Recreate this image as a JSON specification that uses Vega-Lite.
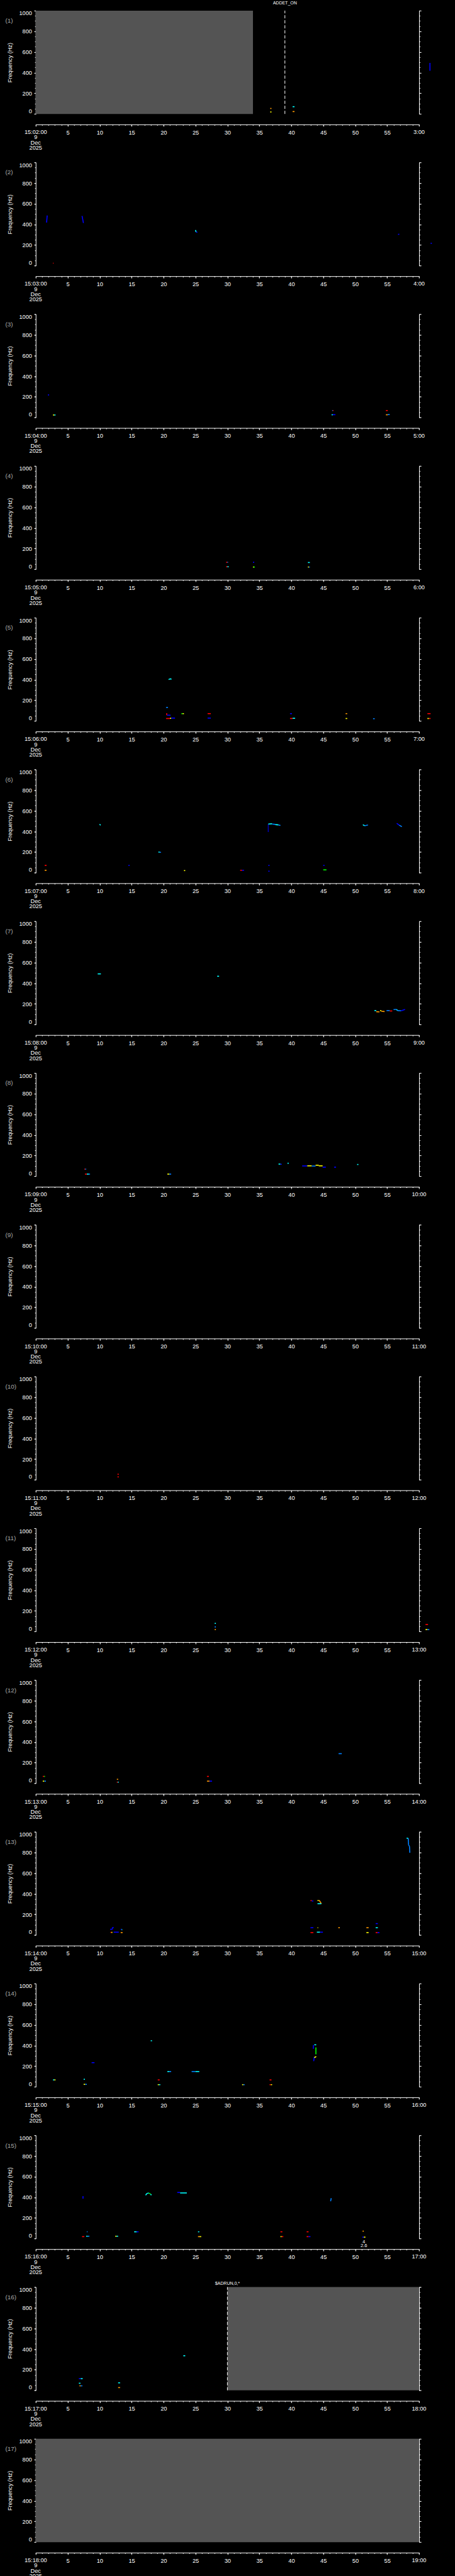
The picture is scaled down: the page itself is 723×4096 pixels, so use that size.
{
"$schema": "https://vega.github.io/schema/vega-lite/v6.json",
"background": "#000000",
"autosize": "none",
"padding": {"left": 56.75, "top": 16.9, "right": 666.25, "bottom": 4079.1},
"config": {
 "view": {"stroke": null},
 "axis": {"domainColor": "#ffffff", "tickColor": "#ffffff", "labelColor": "#ffffff", "titleColor": "#ffffff", "grid": false, "labelFont": "Liberation Sans Narrow, Liberation Sans, sans-serif", "titleFont": "Liberation Sans, sans-serif", "labelFontSize": 9.2, "domainWidth": 1, "tickWidth": 1, "labelOverlap": false, "titleFontWeight": "normal"},
 "text": {"font": "Liberation Sans Narrow, Liberation Sans, sans-serif", "color": "#ffffff"}
},
"data": {"values": [
{"p":1,"k":"g","t":0,"t2":34,"f":0,"f2":1000},
{"p":16,"k":"g","t":30,"t2":60,"f":0,"f2":1000},
{"p":17,"k":"g","t":0,"t2":60,"f":0,"f2":1000},
{"p":1,"k":"d","t":39,"f":0,"f2":1000},
{"p":16,"k":"d","t":30,"f":0,"f2":1000},
{"p":1,"k":"a","t":39,"f":1075,"s":"ADDET_ON"},
{"p":16,"k":"a","t":30,"f":1034,"s":"$ADRUN,0,*"},
{"p":15,"k":"z","t":51.35,"f":-31,"s":"4"},
{"p":15,"k":"z","t":51.35,"f":-70,"s":"2.6"},
{"p":1,"k":"n","t":-4.76,"f":901,"s":"(1)"},
{"p":2,"k":"n","t":-4.76,"f":901,"s":"(2)"},
{"p":3,"k":"n","t":-4.76,"f":901,"s":"(3)"},
{"p":4,"k":"n","t":-4.76,"f":901,"s":"(4)"},
{"p":5,"k":"n","t":-4.76,"f":901,"s":"(5)"},
{"p":6,"k":"n","t":-4.76,"f":901,"s":"(6)"},
{"p":7,"k":"n","t":-4.76,"f":901,"s":"(7)"},
{"p":8,"k":"n","t":-4.76,"f":901,"s":"(8)"},
{"p":9,"k":"n","t":-4.76,"f":901,"s":"(9)"},
{"p":10,"k":"n","t":-4.76,"f":901,"s":"(10)"},
{"p":11,"k":"n","t":-4.76,"f":901,"s":"(11)"},
{"p":12,"k":"n","t":-4.76,"f":901,"s":"(12)"},
{"p":13,"k":"n","t":-4.76,"f":901,"s":"(13)"},
{"p":14,"k":"n","t":-4.76,"f":901,"s":"(14)"},
{"p":15,"k":"n","t":-4.76,"f":901,"s":"(15)"},
{"p":16,"k":"n","t":-4.76,"f":901,"s":"(16)"},
{"p":17,"k":"n","t":-4.76,"f":901,"s":"(17)"},
{"p":1,"k":"s","t":0,"f":-152,"s":"15:02:00\n9\nDec\n2025"},
{"p":2,"k":"s","t":0,"f":-152,"s":"15:03:00\n9\nDec\n2025"},
{"p":3,"k":"s","t":0,"f":-152,"s":"15:04:00\n9\nDec\n2025"},
{"p":4,"k":"s","t":0,"f":-152,"s":"15:05:00\n9\nDec\n2025"},
{"p":5,"k":"s","t":0,"f":-152,"s":"15:06:00\n9\nDec\n2025"},
{"p":6,"k":"s","t":0,"f":-152,"s":"15:07:00\n9\nDec\n2025"},
{"p":7,"k":"s","t":0,"f":-152,"s":"15:08:00\n9\nDec\n2025"},
{"p":8,"k":"s","t":0,"f":-152,"s":"15:09:00\n9\nDec\n2025"},
{"p":9,"k":"s","t":0,"f":-152,"s":"15:10:00\n9\nDec\n2025"},
{"p":10,"k":"s","t":0,"f":-152,"s":"15:11:00\n9\nDec\n2025"},
{"p":11,"k":"s","t":0,"f":-152,"s":"15:12:00\n9\nDec\n2025"},
{"p":12,"k":"s","t":0,"f":-152,"s":"15:13:00\n9\nDec\n2025"},
{"p":13,"k":"s","t":0,"f":-152,"s":"15:14:00\n9\nDec\n2025"},
{"p":14,"k":"s","t":0,"f":-152,"s":"15:15:00\n9\nDec\n2025"},
{"p":15,"k":"s","t":0,"f":-152,"s":"15:16:00\n9\nDec\n2025"},
{"p":16,"k":"s","t":0,"f":-152,"s":"15:17:00\n9\nDec\n2025"},
{"p":17,"k":"s","t":0,"f":-152,"s":"15:18:00\n9\nDec\n2025"},
{"p":1,"k":"s","t":60,"f":-152,"s":"3:00"},
{"p":2,"k":"s","t":60,"f":-152,"s":"4:00"},
{"p":3,"k":"s","t":60,"f":-152,"s":"5:00"},
{"p":4,"k":"s","t":60,"f":-152,"s":"6:00"},
{"p":5,"k":"s","t":60,"f":-152,"s":"7:00"},
{"p":6,"k":"s","t":60,"f":-152,"s":"8:00"},
{"p":7,"k":"s","t":60,"f":-152,"s":"9:00"},
{"p":8,"k":"s","t":60,"f":-152,"s":"10:00"},
{"p":9,"k":"s","t":60,"f":-152,"s":"11:00"},
{"p":10,"k":"s","t":60,"f":-152,"s":"12:00"},
{"p":11,"k":"s","t":60,"f":-152,"s":"13:00"},
{"p":12,"k":"s","t":60,"f":-152,"s":"14:00"},
{"p":13,"k":"s","t":60,"f":-152,"s":"15:00"},
{"p":14,"k":"s","t":60,"f":-152,"s":"16:00"},
{"p":15,"k":"s","t":60,"f":-152,"s":"17:00"},
{"p":16,"k":"s","t":60,"f":-152,"s":"18:00"},
{"p":17,"k":"s","t":60,"f":-152,"s":"19:00"},
{"p":1,"k":"b","t":36.7,"t2":36.9,"f":53,"f2":53,"c":"o"},
{"p":1,"k":"b","t":36.7,"t2":36.9,"f":19,"f2":19,"c":"y"},
{"p":1,"k":"b","t":40.2,"t2":40.5,"f":70,"f2":70,"c":"c"},
{"p":1,"k":"b","t":40.2,"t2":40.5,"f":23,"f2":23,"c":"o"},
{"p":1,"k":"b","t":61.7,"t2":61.7,"f":418,"f2":494,"c":"n"},
{"p":2,"k":"b","t":1.7,"t2":1.8,"f":418,"f2":486,"c":"n"},
{"p":2,"k":"b","t":7.25,"t2":7.47,"f":482,"f2":413,"c":"n"},
{"p":2,"k":"b","t":2.7,"t2":2.8,"f":24,"f2":24,"c":"r"},
{"p":2,"k":"b","t":25.0,"t2":25.1,"f":345,"f2":326,"c":"c"},
{"p":2,"k":"b","t":25.1,"t2":25.3,"f":324,"f2":324,"c":"n"},
{"p":2,"k":"b","t":56.7,"t2":56.9,"f":303,"f2":305,"c":"n"},
{"p":2,"k":"b","t":61.8,"t2":62.0,"f":217,"f2":217,"c":"n"},
{"p":3,"k":"b","t":1.9,"t2":2.1,"f":218,"f2":218,"c":"n"},
{"p":3,"k":"b","t":2.7,"t2":2.9,"f":24,"f2":24,"c":"y"},
{"p":3,"k":"b","t":2.9,"t2":3.1,"f":24,"f2":24,"c":"c"},
{"p":3,"k":"b","t":46.4,"t2":46.5,"f":67,"f2":67,"c":"b"},
{"p":3,"k":"b","t":46.5,"t2":46.6,"f":67,"f2":67,"c":"r"},
{"p":3,"k":"b","t":46.3,"t2":46.5,"f":26,"f2":26,"c":"c"},
{"p":3,"k":"b","t":46.5,"t2":46.9,"f":27,"f2":27,"c":"n"},
{"p":3,"k":"b","t":54.8,"t2":55.1,"f":67,"f2":67,"c":"r"},
{"p":3,"k":"b","t":54.8,"t2":55.1,"f":26,"f2":26,"c":"o"},
{"p":3,"k":"b","t":55.1,"t2":55.4,"f":28,"f2":28,"c":"b"},
{"p":4,"k":"b","t":29.8,"t2":30.0,"f":67,"f2":67,"c":"r"},
{"p":4,"k":"b","t":30.0,"t2":30.1,"f":67,"f2":67,"c":"b"},
{"p":4,"k":"b","t":29.8,"t2":30.0,"f":24,"f2":24,"c":"r"},
{"p":4,"k":"b","t":30.0,"t2":30.2,"f":24,"f2":24,"c":"c"},
{"p":4,"k":"b","t":34.0,"t2":34.2,"f":67,"f2":67,"c":"n"},
{"p":4,"k":"b","t":34.0,"t2":34.1,"f":21,"f2":21,"c":"y"},
{"p":4,"k":"b","t":34.1,"t2":34.3,"f":21,"f2":21,"c":"g"},
{"p":4,"k":"b","t":42.6,"t2":42.9,"f":65,"f2":65,"c":"c"},
{"p":4,"k":"b","t":42.6,"t2":42.75,"f":21,"f2":21,"c":"y"},
{"p":4,"k":"b","t":42.75,"t2":42.9,"f":21,"f2":21,"c":"b"},
{"p":5,"k":"b","t":20.4,"t2":20.7,"f":131,"f2":131,"c":"b"},
{"p":5,"k":"b","t":20.5,"t2":20.5,"f":75,"f2":56,"c":"r"},
{"p":5,"k":"b","t":20.55,"t2":21.1,"f":56,"f2":56,"c":"n"},
{"p":5,"k":"b","t":20.4,"t2":21.0,"f":24,"f2":24,"c":"r"},
{"p":5,"k":"b","t":21.0,"t2":21.2,"f":26,"f2":26,"c":"y"},
{"p":5,"k":"b","t":21.2,"t2":21.8,"f":28,"f2":28,"c":"n"},
{"p":5,"k":"b","t":20.8,"t2":21.0,"f":400,"f2":408,"c":"c"},
{"p":5,"k":"b","t":21.0,"t2":21.25,"f":408,"f2":405,"c":"c"},
{"p":5,"k":"b","t":22.8,"t2":23.0,"f":71,"f2":71,"c":"g"},
{"p":5,"k":"b","t":23.0,"t2":23.2,"f":71,"f2":71,"c":"y"},
{"p":5,"k":"b","t":26.9,"t2":27.4,"f":71,"f2":71,"c":"r"},
{"p":5,"k":"b","t":26.9,"t2":27.4,"f":28,"f2":28,"c":"n"},
{"p":5,"k":"b","t":39.8,"t2":40.1,"f":71,"f2":71,"c":"n"},
{"p":5,"k":"b","t":39.8,"t2":40.2,"f":24,"f2":24,"c":"r"},
{"p":5,"k":"b","t":40.2,"t2":40.6,"f":26,"f2":26,"c":"c"},
{"p":5,"k":"b","t":48.5,"t2":48.75,"f":71,"f2":71,"c":"o"},
{"p":5,"k":"b","t":48.5,"t2":48.75,"f":24,"f2":24,"c":"y"},
{"p":5,"k":"b","t":52.8,"t2":53.05,"f":22,"f2":22,"c":"b"},
{"p":5,"k":"b","t":61.3,"t2":61.8,"f":71,"f2":71,"c":"r"},
{"p":5,"k":"b","t":61.3,"t2":61.55,"f":24,"f2":24,"c":"y"},
{"p":5,"k":"b","t":61.55,"t2":61.8,"f":24,"f2":24,"c":"r"},
{"p":6,"k":"b","t":1.4,"t2":1.7,"f":71,"f2":71,"c":"r"},
{"p":6,"k":"b","t":1.4,"t2":1.7,"f":24,"f2":24,"c":"o"},
{"p":6,"k":"b","t":10.0,"t2":10.15,"f":470,"f2":459,"c":"c"},
{"p":6,"k":"b","t":14.5,"t2":14.7,"f":71,"f2":71,"c":"n"},
{"p":6,"k":"b","t":19.2,"t2":19.4,"f":200,"f2":200,"c":"c"},
{"p":6,"k":"b","t":19.4,"t2":19.6,"f":198,"f2":198,"c":"b"},
{"p":6,"k":"b","t":23.2,"t2":23.4,"f":21,"f2":21,"c":"y"},
{"p":6,"k":"b","t":32.0,"t2":32.3,"f":24,"f2":24,"c":"r"},
{"p":6,"k":"b","t":32.3,"t2":32.6,"f":24,"f2":24,"c":"n"},
{"p":6,"k":"b","t":36.4,"t2":36.4,"f":394,"f2":472,"c":"d"},
{"p":6,"k":"b","t":36.4,"t2":37.0,"f":472,"f2":474,"c":"c"},
{"p":6,"k":"b","t":37.0,"t2":37.5,"f":472,"f2":468,"c":"b"},
{"p":6,"k":"b","t":37.5,"t2":38.0,"f":466,"f2":463,"c":"c"},
{"p":6,"k":"b","t":38.0,"t2":38.3,"f":462,"f2":458,"c":"b"},
{"p":6,"k":"b","t":36.4,"t2":36.6,"f":71,"f2":71,"c":"n"},
{"p":6,"k":"b","t":36.4,"t2":36.6,"f":15,"f2":15,"c":"n"},
{"p":6,"k":"b","t":45.0,"t2":45.2,"f":71,"f2":71,"c":"n"},
{"p":6,"k":"b","t":45.0,"t2":45.5,"f":28,"f2":28,"c":"g"},
{"p":6,"k":"b","t":51.2,"t2":51.5,"f":465,"f2":455,"c":"c"},
{"p":6,"k":"b","t":51.5,"t2":52.0,"f":455,"f2":462,"c":"b"},
{"p":6,"k":"b","t":56.5,"t2":56.9,"f":478,"f2":460,"c":"n"},
{"p":6,"k":"b","t":56.9,"t2":57.3,"f":460,"f2":446,"c":"b"},
{"p":7,"k":"b","t":9.7,"t2":10.2,"f":490,"f2":490,"c":"c"},
{"p":7,"k":"b","t":28.4,"t2":28.7,"f":467,"f2":467,"c":"c"},
{"p":7,"k":"b","t":53.0,"t2":53.3,"f":135,"f2":135,"c":"c"},
{"p":7,"k":"b","t":53.3,"t2":53.8,"f":124,"f2":122,"c":"o"},
{"p":7,"k":"b","t":53.9,"t2":54.1,"f":135,"f2":133,"c":"y"},
{"p":7,"k":"b","t":54.1,"t2":54.6,"f":128,"f2":126,"c":"o"},
{"p":7,"k":"b","t":54.9,"t2":55.4,"f":135,"f2":135,"c":"b"},
{"p":7,"k":"b","t":55.4,"t2":55.8,"f":131,"f2":131,"c":"r"},
{"p":7,"k":"b","t":56.0,"t2":56.5,"f":145,"f2":146,"c":"b"},
{"p":7,"k":"b","t":56.5,"t2":56.6,"f":146,"f2":135,"c":"c"},
{"p":7,"k":"b","t":56.6,"t2":57.2,"f":135,"f2":133,"c":"b"},
{"p":7,"k":"b","t":57.2,"t2":57.8,"f":133,"f2":146,"c":"n"},
{"p":8,"k":"b","t":7.6,"t2":7.75,"f":69,"f2":69,"c":"r"},
{"p":8,"k":"b","t":7.75,"t2":7.9,"f":69,"f2":69,"c":"b"},
{"p":8,"k":"b","t":7.7,"t2":8.0,"f":21,"f2":21,"c":"r"},
{"p":8,"k":"b","t":8.0,"t2":8.3,"f":21,"f2":21,"c":"c"},
{"p":8,"k":"b","t":8.3,"t2":8.5,"f":21,"f2":21,"c":"b"},
{"p":8,"k":"b","t":20.6,"t2":20.9,"f":21,"f2":21,"c":"y"},
{"p":8,"k":"b","t":20.9,"t2":21.2,"f":21,"f2":21,"c":"b"},
{"p":8,"k":"b","t":38.0,"t2":38.3,"f":118,"f2":118,"c":"c"},
{"p":8,"k":"b","t":38.3,"t2":38.5,"f":116,"f2":116,"c":"n"},
{"p":8,"k":"b","t":39.4,"t2":39.6,"f":126,"f2":126,"c":"c"},
{"p":8,"k":"b","t":41.7,"t2":42.5,"f":100,"f2":100,"c":"n"},
{"p":8,"k":"b","t":42.5,"t2":43.2,"f":101,"f2":101,"c":"y"},
{"p":8,"k":"b","t":43.2,"t2":43.8,"f":99,"f2":99,"c":"b"},
{"p":8,"k":"b","t":43.8,"t2":44.3,"f":107,"f2":107,"c":"y"},
{"p":8,"k":"b","t":44.3,"t2":44.9,"f":101,"f2":101,"c":"y"},
{"p":8,"k":"b","t":44.9,"t2":45.4,"f":88,"f2":88,"c":"n"},
{"p":8,"k":"b","t":46.7,"t2":47.0,"f":88,"f2":88,"c":"n"},
{"p":8,"k":"b","t":50.3,"t2":50.5,"f":114,"f2":114,"c":"c"},
{"p":10,"k":"b","t":12.8,"t2":13.0,"f":54,"f2":54,"c":"r"},
{"p":10,"k":"b","t":12.8,"t2":13.0,"f":28,"f2":28,"c":"r"},
{"p":11,"k":"b","t":28.0,"t2":28.2,"f":79,"f2":79,"c":"c"},
{"p":11,"k":"b","t":28.0,"t2":28.2,"f":45,"f2":45,"c":"b"},
{"p":11,"k":"b","t":28.0,"t2":28.2,"f":19,"f2":19,"c":"o"},
{"p":11,"k":"b","t":61.0,"t2":61.4,"f":68,"f2":68,"c":"r"},
{"p":11,"k":"b","t":61.0,"t2":61.3,"f":19,"f2":19,"c":"y"},
{"p":11,"k":"b","t":61.3,"t2":61.6,"f":19,"f2":19,"c":"b"},
{"p":12,"k":"b","t":1.1,"t2":1.3,"f":67,"f2":67,"c":"r"},
{"p":12,"k":"b","t":1.3,"t2":1.45,"f":67,"f2":67,"c":"g"},
{"p":12,"k":"b","t":1.1,"t2":1.35,"f":21,"f2":21,"c":"y"},
{"p":12,"k":"b","t":1.35,"t2":1.6,"f":21,"f2":21,"c":"b"},
{"p":12,"k":"b","t":12.7,"t2":12.9,"f":39,"f2":39,"c":"o"},
{"p":12,"k":"b","t":12.7,"t2":12.85,"f":11,"f2":11,"c":"r"},
{"p":12,"k":"b","t":12.85,"t2":13.0,"f":11,"f2":11,"c":"c"},
{"p":12,"k":"b","t":26.8,"t2":27.1,"f":67,"f2":67,"c":"r"},
{"p":12,"k":"b","t":26.8,"t2":27.2,"f":21,"f2":21,"c":"o"},
{"p":12,"k":"b","t":27.2,"t2":27.6,"f":21,"f2":21,"c":"n"},
{"p":12,"k":"b","t":47.4,"t2":47.9,"f":287,"f2":287,"c":"b"},
{"p":13,"k":"b","t":11.65,"t2":12.0,"f":56,"f2":56,"c":"n"},
{"p":13,"k":"b","t":12.0,"t2":12.0,"f":56,"f2":73,"c":"n"},
{"p":13,"k":"b","t":12.0,"t2":12.2,"f":73,"f2":73,"c":"n"},
{"p":13,"k":"b","t":11.7,"t2":11.85,"f":26,"f2":26,"c":"r"},
{"p":13,"k":"b","t":11.85,"t2":12.0,"f":26,"f2":26,"c":"y"},
{"p":13,"k":"b","t":12.2,"t2":13.0,"f":28,"f2":28,"c":"n"},
{"p":13,"k":"b","t":13.3,"t2":13.45,"f":56,"f2":56,"c":"n"},
{"p":13,"k":"b","t":13.45,"t2":13.55,"f":52,"f2":52,"c":"c"},
{"p":13,"k":"b","t":13.3,"t2":13.6,"f":24,"f2":24,"c":"o"},
{"p":13,"k":"b","t":43.0,"t2":43.2,"f":334,"f2":334,"c":"r"},
{"p":13,"k":"b","t":43.2,"t2":43.45,"f":330,"f2":330,"c":"n"},
{"p":13,"k":"b","t":44.1,"t2":44.3,"f":335,"f2":335,"c":"y"},
{"p":13,"k":"b","t":44.35,"t2":44.7,"f":338,"f2":304,"c":"o"},
{"p":13,"k":"b","t":44.1,"t2":44.7,"f":304,"f2":304,"c":"c"},
{"p":13,"k":"b","t":43.0,"t2":43.45,"f":71,"f2":71,"c":"n"},
{"p":13,"k":"b","t":43.0,"t2":43.45,"f":24,"f2":24,"c":"r"},
{"p":13,"k":"b","t":44.1,"t2":44.2,"f":71,"f2":71,"c":"y"},
{"p":13,"k":"b","t":44.0,"t2":44.5,"f":28,"f2":28,"c":"c"},
{"p":13,"k":"b","t":44.5,"t2":44.95,"f":28,"f2":28,"c":"n"},
{"p":13,"k":"b","t":47.35,"t2":47.6,"f":71,"f2":71,"c":"o"},
{"p":13,"k":"b","t":51.75,"t2":52.1,"f":71,"f2":71,"c":"o"},
{"p":13,"k":"b","t":51.75,"t2":52.1,"f":24,"f2":24,"c":"y"},
{"p":13,"k":"b","t":53.2,"t2":53.55,"f":111,"f2":111,"c":"n"},
{"p":13,"k":"b","t":53.2,"t2":53.55,"f":71,"f2":71,"c":"c"},
{"p":13,"k":"b","t":53.2,"t2":53.5,"f":24,"f2":24,"c":"r"},
{"p":13,"k":"b","t":53.5,"t2":53.8,"f":24,"f2":24,"c":"n"},
{"p":13,"k":"b","t":58.04,"t2":58.3,"f":938,"f2":936,"c":"c"},
{"p":13,"k":"b","t":58.3,"t2":58.35,"f":936,"f2":872,"c":"b"},
{"p":13,"k":"b","t":58.35,"t2":58.5,"f":872,"f2":859,"c":"b"},
{"p":13,"k":"b","t":58.5,"t2":58.55,"f":859,"f2":797,"c":"b"},
{"p":14,"k":"b","t":2.7,"t2":2.9,"f":67,"f2":67,"c":"c"},
{"p":14,"k":"b","t":2.9,"t2":3.1,"f":67,"f2":67,"c":"y"},
{"p":14,"k":"b","t":7.5,"t2":7.7,"f":73,"f2":73,"c":"c"},
{"p":14,"k":"b","t":7.5,"t2":7.75,"f":24,"f2":24,"c":"y"},
{"p":14,"k":"b","t":7.75,"t2":8.0,"f":24,"f2":24,"c":"b"},
{"p":14,"k":"b","t":8.75,"t2":9.2,"f":234,"f2":234,"c":"n"},
{"p":14,"k":"b","t":18.0,"t2":18.2,"f":446,"f2":446,"c":"c"},
{"p":14,"k":"b","t":19.1,"t2":19.4,"f":67,"f2":67,"c":"r"},
{"p":14,"k":"b","t":19.1,"t2":19.3,"f":21,"f2":21,"c":"y"},
{"p":14,"k":"b","t":19.3,"t2":19.5,"f":21,"f2":21,"c":"c"},
{"p":14,"k":"b","t":20.6,"t2":20.9,"f":148,"f2":148,"c":"c"},
{"p":14,"k":"b","t":20.9,"t2":21.2,"f":148,"f2":148,"c":"b"},
{"p":14,"k":"b","t":24.4,"t2":25.0,"f":148,"f2":148,"c":"b"},
{"p":14,"k":"b","t":25.0,"t2":25.6,"f":148,"f2":148,"c":"c"},
{"p":14,"k":"b","t":32.3,"t2":32.5,"f":21,"f2":21,"c":"y"},
{"p":14,"k":"b","t":32.5,"t2":32.7,"f":21,"f2":21,"c":"b"},
{"p":14,"k":"b","t":36.6,"t2":36.9,"f":67,"f2":67,"c":"r"},
{"p":14,"k":"b","t":36.6,"t2":36.8,"f":21,"f2":21,"c":"r"},
{"p":14,"k":"b","t":36.8,"t2":37.0,"f":21,"f2":21,"c":"y"},
{"p":14,"k":"b","t":43.45,"t2":43.45,"f":368,"f2":405,"c":"n"},
{"p":14,"k":"b","t":43.6,"t2":43.9,"f":407,"f2":407,"c":"c"},
{"p":14,"k":"b","t":43.85,"t2":43.85,"f":381,"f2":315,"c":"g"},
{"p":14,"k":"b","t":43.5,"t2":43.6,"f":248,"f2":289,"c":"n"},
{"p":14,"k":"b","t":43.6,"t2":43.9,"f":283,"f2":293,"c":"y"},
{"p":15,"k":"b","t":7.4,"t2":7.4,"f":387,"f2":411,"c":"n"},
{"p":15,"k":"b","t":8.0,"t2":8.1,"f":66,"f2":66,"c":"b"},
{"p":15,"k":"b","t":7.25,"t2":7.6,"f":19,"f2":19,"c":"r"},
{"p":15,"k":"b","t":7.9,"t2":8.15,"f":23,"f2":23,"c":"c"},
{"p":15,"k":"b","t":8.15,"t2":8.4,"f":23,"f2":23,"c":"b"},
{"p":15,"k":"b","t":12.45,"t2":12.65,"f":23,"f2":23,"c":"y"},
{"p":15,"k":"b","t":12.65,"t2":12.9,"f":23,"f2":23,"c":"c"},
{"p":15,"k":"b","t":15.4,"t2":15.8,"f":66,"f2":66,"c":"c"},
{"p":15,"k":"b","t":15.8,"t2":16.1,"f":66,"f2":66,"c":"n"},
{"p":15,"k":"b","t":17.2,"t2":17.4,"f":420,"f2":437,"c":"c"},
{"p":15,"k":"b","t":17.4,"t2":17.7,"f":437,"f2":441,"c":"c"},
{"p":15,"k":"b","t":17.7,"t2":18.0,"f":441,"f2":430,"c":"g"},
{"p":15,"k":"b","t":18.0,"t2":18.1,"f":430,"f2":420,"c":"c"},
{"p":15,"k":"b","t":22.15,"t2":22.6,"f":447,"f2":447,"c":"n"},
{"p":15,"k":"b","t":22.6,"t2":23.65,"f":442,"f2":442,"c":"c"},
{"p":15,"k":"b","t":25.4,"t2":25.6,"f":66,"f2":66,"c":"c"},
{"p":15,"k":"b","t":25.4,"t2":25.65,"f":19,"f2":19,"c":"o"},
{"p":15,"k":"b","t":25.65,"t2":25.9,"f":19,"f2":19,"c":"y"},
{"p":15,"k":"b","t":38.3,"t2":38.6,"f":66,"f2":66,"c":"r"},
{"p":15,"k":"b","t":38.3,"t2":38.5,"f":19,"f2":19,"c":"y"},
{"p":15,"k":"b","t":38.5,"t2":38.75,"f":19,"f2":19,"c":"r"},
{"p":15,"k":"b","t":42.4,"t2":42.7,"f":66,"f2":66,"c":"r"},
{"p":15,"k":"b","t":42.4,"t2":42.7,"f":19,"f2":19,"c":"r"},
{"p":15,"k":"b","t":42.7,"t2":43.0,"f":19,"f2":19,"c":"n"},
{"p":15,"k":"b","t":46.15,"t2":46.25,"f":362,"f2":391,"c":"b"},
{"p":15,"k":"b","t":51.15,"t2":51.35,"f":72,"f2":72,"c":"o"},
{"p":15,"k":"b","t":51.1,"t2":51.35,"f":14,"f2":14,"c":"n"},
{"p":15,"k":"b","t":51.35,"t2":51.6,"f":14,"f2":14,"c":"y"},
{"p":16,"k":"b","t":6.75,"t2":7.05,"f":113,"f2":113,"c":"n"},
{"p":16,"k":"b","t":7.05,"t2":7.35,"f":113,"f2":113,"c":"c"},
{"p":16,"k":"b","t":6.75,"t2":7.0,"f":69,"f2":69,"c":"c"},
{"p":16,"k":"b","t":6.85,"t2":7.05,"f":44,"f2":44,"c":"o"},
{"p":16,"k":"b","t":7.05,"t2":7.3,"f":44,"f2":44,"c":"b"},
{"p":16,"k":"b","t":12.9,"t2":13.2,"f":73,"f2":73,"c":"c"},
{"p":16,"k":"b","t":12.9,"t2":13.2,"f":27,"f2":27,"c":"o"},
{"p":16,"k":"b","t":23.1,"t2":23.4,"f":335,"f2":335,"c":"c"}
]},
"facet": {"row": {"field": "p", "type": "ordinal", "header": null}},
"spacing": {"row": 76.31},
"bounds": "flush",
"resolve": {"axis": {"x": "independent", "y": "independent"}},
"spec": {
 "width": 609.2,
 "height": 164.27,
 "resolve": {"axis": {"x": "independent", "y": "independent"}},
 "layer": [
  {"transform": [{"filter": "datum.k == 'g'"}],
   "mark": {"type": "rect", "color": "#545454"},
   "encoding": {
    "x": {"field": "t", "type": "quantitative", "scale": {"domain": [0, 60], "nice": false, "zero": false}, "axis": null},
    "x2": {"field": "t2"},
    "y": {"field": "f", "type": "quantitative", "scale": {"domain": [0, 1000], "nice": false, "zero": false}, "axis": null},
    "y2": {"field": "f2"}}},
  {"transform": [{"filter": "datum.k == 'b'"}],
   "mark": {"type": "rule", "strokeWidth": 1.6},
   "encoding": {
    "x": {"field": "t", "type": "quantitative", "scale": {"domain": [0, 60], "nice": false, "zero": false}, "axis": null},
    "x2": {"field": "t2"},
    "y": {"field": "f", "type": "quantitative", "scale": {"domain": [0, 1000], "nice": false, "zero": false}, "axis": null},
    "y2": {"field": "f2"},
    "color": {"field": "c", "type": "nominal", "legend": null, "scale": {"domain": ["r", "o", "y", "g", "c", "b", "n", "d"], "range": ["#ff0000", "#ff9900", "#ffff00", "#00ff00", "#00ffff", "#0080ff", "#0000ff", "#0000b0"]}}}},
  {"transform": [{"filter": "datum.k == 'd'"}],
   "mark": {"type": "rule", "color": "#ffffff", "strokeWidth": 1, "strokeDash": [5, 3]},
   "encoding": {
    "x": {"field": "t", "type": "quantitative", "scale": {"domain": [0, 60], "nice": false, "zero": false}, "axis": null},
    "y": {"field": "f", "type": "quantitative", "scale": {"domain": [0, 1000], "nice": false, "zero": false}, "axis": null},
    "y2": {"field": "f2"}}},
  {"transform": [{"filter": "datum.k == 'a'"}],
   "mark": {"type": "text", "fontSize": 7, "baseline": "middle", "align": "center", "color": "#ffffff"},
   "encoding": {
    "x": {"field": "t", "type": "quantitative", "scale": {"domain": [0, 60], "nice": false, "zero": false}, "axis": null},
    "y": {"field": "f", "type": "quantitative", "scale": {"domain": [0, 1000], "nice": false, "zero": false}, "axis": null},
    "text": {"field": "s"}}},
  {"transform": [{"filter": "datum.k == 'z'"}],
   "mark": {"type": "text", "fontSize": 7.5, "baseline": "middle", "align": "center", "color": "#ffffff"},
   "encoding": {
    "x": {"field": "t", "type": "quantitative", "scale": {"domain": [0, 60], "nice": false, "zero": false}, "axis": null},
    "y": {"field": "f", "type": "quantitative", "scale": {"domain": [0, 1000], "nice": false, "zero": false}, "axis": null},
    "text": {"field": "s"}}},
  {"transform": [{"filter": "datum.k == 'n'"}],
   "mark": {"type": "text", "fontSize": 9.9, "baseline": "middle", "align": "left", "color": "#aaaaaa"},
   "encoding": {
    "x": {"field": "t", "type": "quantitative", "scale": {"domain": [0, 60], "nice": false, "zero": false}, "axis": null},
    "y": {"field": "f", "type": "quantitative", "scale": {"domain": [0, 1000], "nice": false, "zero": false}, "axis": null},
    "text": {"field": "s"}}},
  {"transform": [{"filter": "datum.k == 's'"}],
   "mark": {"type": "text", "fontSize": 9.2, "baseline": "top", "align": "center", "color": "#ffffff", "lineBreak": "\n", "lineHeight": 8.24},
   "encoding": {
    "x": {"field": "t", "type": "quantitative", "scale": {"domain": [0, 60], "nice": false, "zero": false}, "axis": null},
    "y": {"field": "f", "type": "quantitative", "scale": {"domain": [0, 1000], "nice": false, "zero": false}, "axis": null},
    "text": {"field": "s"}}},
  {"transform": [{"filter": "false"}],
   "mark": {"type": "point", "opacity": 0},
   "encoding": {
    "x": {"field": "t", "type": "quantitative", "scale": {"domain": [0, 60], "nice": false, "zero": false},
          "axis": {"orient": "bottom", "offset": 16.7, "values": [0,5,10,15,20,25,30,35,40,45,50,55,60], "tickSize": 3, "labelPadding": 5.3, "labelExpr": "datum.value > 0 && datum.value < 60 ? datum.label : ''", "title": null, "domain": true}},
    "y": {"field": "f", "type": "quantitative", "scale": {"domain": [0, 1000], "nice": false, "zero": false},
          "axis": {"orient": "left", "values": [0,200,400,600,800,1000], "format": "d", "tickSize": 2.8, "labelPadding": 3.5, "labelFlush": true, "title": "Frequency  (Hz)", "titleX": -40.9, "titleY": 82.1, "titleBaseline": "middle", "titleFontSize": 9.2, "domain": true}}}},
  {"transform": [{"filter": "false"}],
   "mark": {"type": "point", "opacity": 0},
   "encoding": {
    "x": {"field": "t", "type": "quantitative", "scale": {"domain": [0, 60], "nice": false, "zero": false},
          "axis": {"orient": "bottom", "offset": 16.7, "values": [0,1,2,3,4,5,6,7,8,9,10,11,12,13,14,15,16,17,18,19,20,21,22,23,24,25,26,27,28,29,30,31,32,33,34,35,36,37,38,39,40,41,42,43,44,45,46,47,48,49,50,51,52,53,54,55,56,57,58,59,60], "tickSize": 1.5, "labels": false, "title": null, "domain": false}},
    "y": {"field": "f", "type": "quantitative", "scale": {"domain": [0, 1000], "nice": false, "zero": false},
          "axis": {"orient": "left", "values": [0,50,100,150,200,250,300,350,400,450,500,550,600,650,700,750,800,850,900,950,1000], "tickSize": 1.6, "labels": false, "title": null, "domain": false}}}},
  {"transform": [{"filter": "false"}],
   "mark": {"type": "point", "opacity": 0},
   "encoding": {
    "x": {"field": "t", "type": "quantitative", "scale": {"domain": [0, 60], "nice": false, "zero": false}, "axis": null},
    "y": {"field": "f", "type": "quantitative", "scale": {"domain": [0, 1000], "nice": false, "zero": false},
          "axis": {"orient": "right", "values": [0,200,400,600,800,1000], "tickSize": 3.2, "labels": false, "title": null, "domain": true}}}},
  {"transform": [{"filter": "false"}],
   "mark": {"type": "point", "opacity": 0},
   "encoding": {
    "x": {"field": "t", "type": "quantitative", "scale": {"domain": [0, 60], "nice": false, "zero": false}, "axis": null},
    "y": {"field": "f", "type": "quantitative", "scale": {"domain": [0, 1000], "nice": false, "zero": false},
          "axis": {"orient": "right", "values": [0,50,100,150,200,250,300,350,400,450,500,550,600,650,700,750,800,850,900,950,1000], "tickSize": 1.6, "labels": false, "title": null, "domain": false}}}}
 ]
}
}
